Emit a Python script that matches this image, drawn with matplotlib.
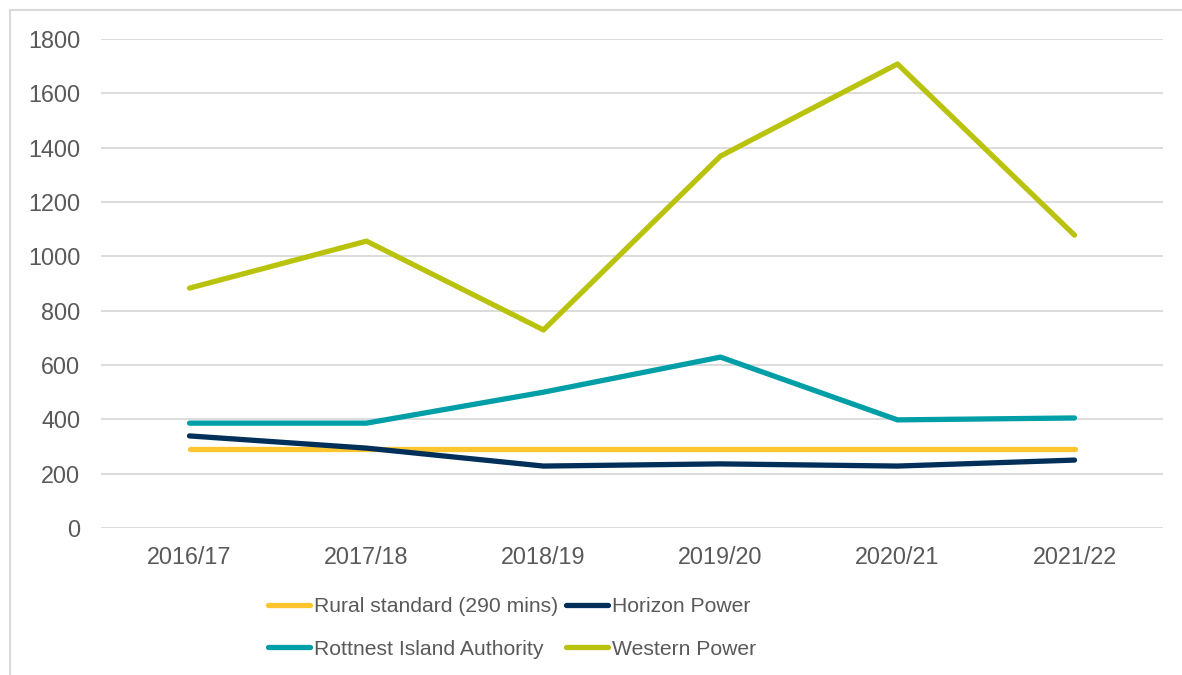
import matplotlib
matplotlib.use("Agg")
from matplotlib import pyplot as plt
from matplotlib.lines import Line2D

years = ["2016/17", "2017/18", "2018/19", "2019/20", "2020/21", "2021/22"]
rural = [290, 290, 290, 290, 290, 290]
horizon = [339, 294, 228, 236, 228, 250]
rottnest = [386, 386, 500, 629, 398, 405]
western = [883, 1056, 729, 1369, 1708, 1078]

plt.rcParams['font.family'] = ['Liberation Sans', 'DejaVu Sans']

fig = plt.figure(figsize=(11.82, 6.75), dpi=100)
ax = fig.add_axes([101 / 1182, 1 - 528 / 675, (1163 - 101) / 1182, (528 - 39) / 675])

x = list(range(len(years)))
lw = 3.8
l_rural, = ax.plot(x, rural, color='#FEC52E', lw=lw, solid_capstyle='round', label='Rural standard (290 mins)')
l_horizon, = ax.plot(x, horizon, color='#00305A', lw=lw, solid_capstyle='round', label='Horizon Power')
l_rott, = ax.plot(x, rottnest, color='#009FA8', lw=lw, solid_capstyle='round', label='Rottnest Island Authority')
l_west, = ax.plot(x, western, color='#B9C30E', lw=lw, solid_capstyle='round', label='Western Power')

ax.set_xlim(-0.5, len(years) - 0.5)
ax.set_ylim(0, 1800)
ax.set_yticks(range(0, 1801, 200))
ax.set_xticks(x)
ax.set_xticklabels(years)
ax.grid(axis='y', color='#D9D9D9', lw=1.3)
ax.set_axisbelow(True)
for s in ax.spines.values():
    s.set_visible(False)
ax.tick_params(length=0, labelsize=16.8, labelcolor='#595959')
ax.tick_params(axis='y', pad=15)
ax.tick_params(axis='x', pad=13)

leg = fig.legend(handles=[l_rural, l_rott, l_horizon, l_west], ncol=2,
                 loc='center left', bbox_to_anchor=(268 / 1182, 1 - 628 / 675),
                 frameon=False, fontsize=15.2, handlelength=2.0, handletextpad=0.2,
                 columnspacing=0.35, labelspacing=1.1, borderpad=0, borderaxespad=0)
for t in leg.get_texts():
    t.set_color('#595959')

# outer chart frame (only left and top visible)
fig.add_artist(Line2D([10 / 1182, 10 / 1182], [0, 1 - 10 / 675], color='#D9D9D9', lw=1.5))
fig.add_artist(Line2D([10 / 1182, 1], [1 - 10 / 675, 1 - 10 / 675], color='#D9D9D9', lw=1.5))

fig.savefig('out.png', dpi=100)
